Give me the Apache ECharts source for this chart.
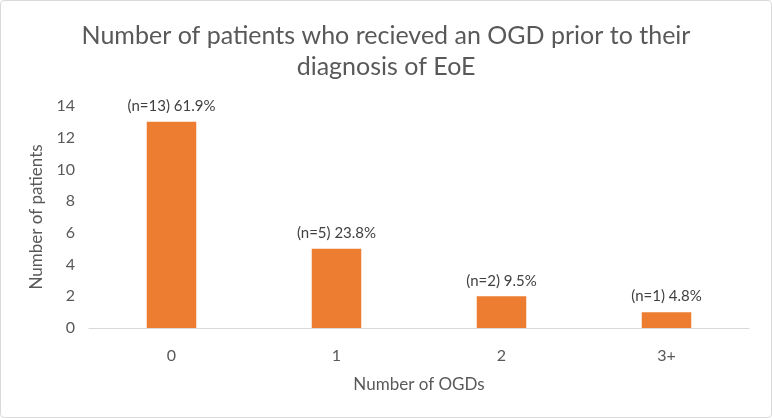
<!DOCTYPE html>
<html><head><meta charset="utf-8">
<script src="https://cdn.jsdelivr.net/npm/echarts@6/dist/echarts.min.js"></script>
<style>html,body{margin:0;padding:0;background:#fff}#c{width:772px;height:418px;box-sizing:border-box;border:1px solid #d9d9d9;border-radius:4px}</style>
</head><body><div id="c"></div>
<script>
const categories = ['0', '1', '2', '3+'];
const patients = [13, 5, 2, 1];
const labels = ['(n=13) 61.9%', '(n=5) 23.8%', '(n=2) 9.5%', '(n=1) 4.8%'];
const yTicks = [0, 2, 4, 6, 8, 10, 12, 14];

const chart = echarts.init(document.getElementById('c'));
const F = 'Lato, "Open Sans", sans-serif';
chart.setOption({
  animation: false,
  title: {
    text: 'Number of patients who recieved an OGD prior to their\ndiagnosis of EoE',
    left: 'center', top: 14,
    textStyle: { fontFamily: F, fontSize: 25, fontWeight: 'normal', color: '#595959', lineHeight: 31 }
  },
  grid: { left: 88, right: 22, top: 105, bottom: 89 },
  xAxis: {
    type: 'category', data: categories,
    name: 'Number of OGDs', nameLocation: 'middle', nameGap: 48,
    nameTextStyle: { fontFamily: F, fontSize: 17, color: '#595959' },
    axisLine: { lineStyle: { color: '#d9d9d9' } },
    axisTick: { show: false },
    axisLabel: { fontFamily: F, fontSize: 16, color: '#595959', margin: 20 }
  },
  yAxis: {
    type: 'value', min: yTicks[0], max: yTicks[yTicks.length - 1], interval: 2,
    name: 'Number of patients', nameLocation: 'middle', nameGap: 44,
    nameTextStyle: { fontFamily: F, fontSize: 17, color: '#595959' },
    splitLine: { show: false },
    axisLine: { show: false }, axisTick: { show: false },
    axisLabel: { fontFamily: F, fontSize: 16, color: '#595959', margin: 14 }
  },
  series: [{
    type: 'bar', data: patients, barWidth: '30%',
    itemStyle: { color: '#ed7d31' },
    label: {
      show: true, position: 'top', distance: 8,
      fontFamily: F, fontSize: 15, color: '#404040',
      formatter: p => labels[p.dataIndex]
    }
  }]
});
</script></body></html>
